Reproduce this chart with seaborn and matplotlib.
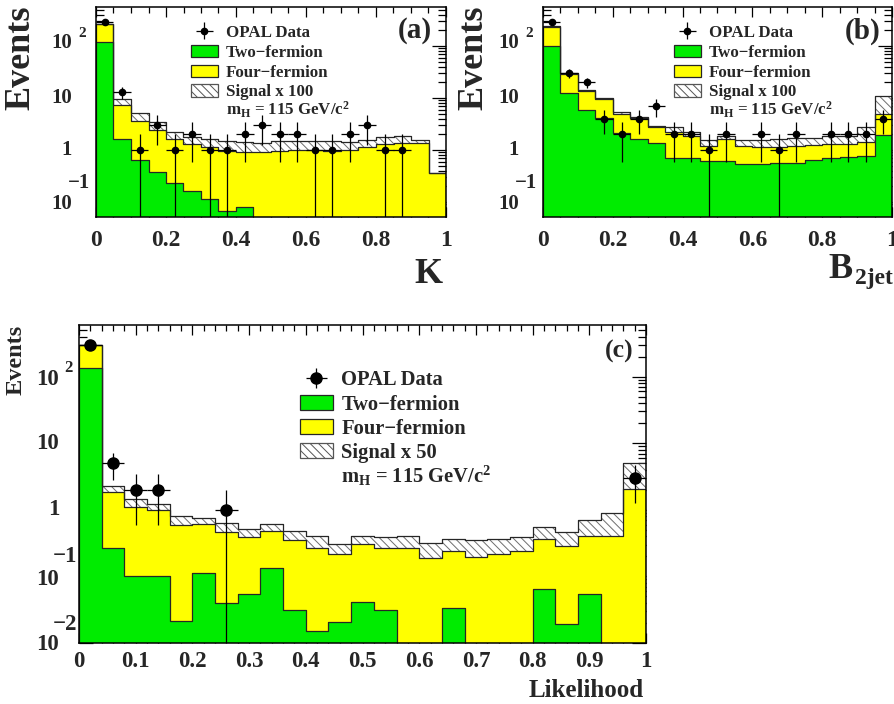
import numpy as np
import seaborn as sns
import matplotlib.pyplot as plt
import matplotlib.transforms as mtransforms
from matplotlib.patches import Patch
from matplotlib.ticker import MultipleLocator, NullFormatter, FuncFormatter

# ---- panel (a): K, 20 bins ----
a_edges = np.linspace(0, 1, 21)
a_two = [121, 1.6, 0.64, 0.37, 0.23, 0.16, 0.112, 0.067, 0.079, 0, 0, 0, 0, 0, 0, 0, 0, 0, 0, 0]
a_four = [141, 5.7, 2.96, 2.03, 1.37, 1.14, 1.01, 0.90, 0.85, 0.93, 0.97, 1.0, 0.98, 0.97, 1.0,
          1.16, 1.3, 1.38, 1.38, 0.36]
a_sig = [3, 2.2, 1.5, 1.0, 0.65, 0.5, 0.48, 0.53, 0.52, 0.45, 0.53, 0.5, 0.54, 0.55, 0.45,
         0.39, 0.5, 0.52, 0.17, 0]
a_data = [295, 13, 1, 3, 1, 2, 1, 1, 2, 3, 2, 2, 1, 1, 2, 3, 1, 1, 0, 0]

# ---- panel (b): B_2jet, 20 bins ----
b_edges = np.linspace(0, 1, 21)
b_two = [100, 12.3, 5.9, 4.2, 2.15, 1.6, 1.38, 0.7, 0.7, 0.62, 0.62, 0.53, 0.53, 0.57, 0.56,
         0.64, 0.69, 0.72, 0.77, 1.94]
b_four = [135, 16.7, 7.9, 5.2, 2.75, 2.47, 1.42, 1.55, 1.2, 0.57, 0.98, 0.66, 0.63, 0.56, 0.63,
          0.61, 0.61, 0.61, 0.67, 2.9]
b_sig = [5, 1.0, 0.4, 0.7, 0.4, 0.3, 0.13, 0.48, 0.3, 0.37, 0.28, 0.37, 0.4, 0.47, 0.49,
         0.43, 0.56, 0.53, 1.29, 6.05]
b_data = [285, 30, 20, 4, 2, 4, 7, 2, 2, 1, 2, 0, 2, 1, 2, 0, 2, 2, 2, 4]

# ---- panel (c): Likelihood, 25 bins ----
c_edges = np.linspace(0, 1, 26)
c_two = [133, 0.27, 0.1, 0.103, 0.0214, 0.112, 0.04, 0.055, 0.133, 0.0316, 0.015, 0.0204,
         0.041, 0.0316, 0, 0, 0.033, 0, 0, 0, 0.065, 0.019, 0.055, 0, 0]
c_four = [165, 1.61, 1.02, 0.88, 0.56, 0.49, 0.43, 0.335, 0.34, 0.32, 0.255, 0.2, 0.264, 0.24,
          0.263, 0.19, 0.204, 0.195, 0.216, 0.237, 0.3, 0.27, 0.355, 0.4, 2.07]
c_sig = [2, 0.36, 0.33, 0.25, 0.23, 0.14, 0.16, 0.13, 0.14, 0.135, 0.13, 0.09, 0.105, 0.12,
         0.147, 0.13, 0.123, 0.155, 0.144, 0.153, 0.187, 0.182, 0.3, 0.49, 2.93]
c_data = [303, 5, 2, 2, 0, 0, 1, 0, 0, 0, 0, 0, 0, 0, 0, 0, 0, 0, 0, 0, 0, 0, 0, 0, 3]

GREEN = '#00ec00'
YELLOW = '#ffff00'
EDGE = '#262626'
HATCH = '\\' * 4
MH_LABEL = r'$\mathbf{m_{H}}$ = 115 GeV/c$^{2}$'

sns.set_style("ticks")
plt.rcParams['font.family'] = ['Liberation Serif', 'DejaVu Serif']
plt.rcParams['font.weight'] = 'bold'
plt.rcParams['mathtext.fontset'] = 'custom'
plt.rcParams['mathtext.rm'] = 'Liberation Serif:bold'
plt.rcParams['mathtext.it'] = 'Liberation Serif:bold'
plt.rcParams['mathtext.bf'] = 'Liberation Serif:bold'
plt.rcParams['hatch.linewidth'] = 0.7

W, H = 895, 704
fig = plt.figure(figsize=(W / 100, H / 100), dpi=100)


def frame(l, t, r, b):
    return fig.add_axes([l / W, 1 - b / H, (r - l) / W, (b - t) / H])


def draw_stack(ax, edges, two, four, sig, data, ms):
    centers = (edges[:-1] + edges[1:]) / 2
    bins = list(edges)
    lvl_two = np.array(two, dtype=float)
    lvl_four = lvl_two + np.array(four)
    lvl_sig = lvl_four + np.array(sig)
    # signal on top of everything, hatched
    sns.histplot(x=centers, weights=lvl_sig, bins=bins, element='step', fill=True,
                 facecolor='white', edgecolor='#6e6e6e', hatch=HATCH, linewidth=0,
                 alpha=1, ax=ax)
    sns.histplot(x=centers, weights=lvl_sig, bins=bins, element='step', fill=False,
                 color=EDGE, linewidth=0.9, ax=ax)
    sns.histplot(x=centers, weights=lvl_four, bins=bins, element='step', fill=True,
                 facecolor=YELLOW, edgecolor=EDGE, linewidth=0.9, alpha=1, ax=ax)
    sns.histplot(x=centers, weights=lvl_two, bins=bins, element='step', fill=True,
                 facecolor=GREEN, edgecolor=EDGE, linewidth=0.9, alpha=1, ax=ax)
    n = np.array(data, dtype=float)
    keep = n > 0
    half = (edges[1] - edges[0]) / 2
    eb = ax.errorbar(centers[keep], n[keep], xerr=half, yerr=np.sqrt(n[keep]), fmt='o',
                     color='black', ms=ms, elinewidth=0.9, capsize=0, label='OPAL Data',
                     zorder=5)
    ax.set_xlabel('')
    ax.set_ylabel('')
    return eb


def style_axis(ax, ymin, ymax, major, minor, xfs, xpad):
    ax.set_yscale('log')
    ax.set_xlim(0, 1)
    ax.set_ylim(ymin, ymax)
    ax.xaxis.set_major_locator(MultipleLocator(major))
    ax.xaxis.set_minor_locator(MultipleLocator(minor))
    ax.xaxis.set_major_formatter(FuncFormatter(lambda v, p: f"{v:g}"))
    ax.yaxis.set_major_formatter(NullFormatter())
    ax.yaxis.set_minor_formatter(NullFormatter())
    ax.tick_params(which='both', direction='in', top=True, right=True, width=0.9, color='black')
    ax.tick_params(axis='x', which='major', length=7, labelsize=xfs, pad=xpad)
    ax.tick_params(axis='x', which='minor', length=4)
    ax.tick_params(axis='y', which='major', length=10)
    ax.tick_params(axis='y', which='minor', length=6)
    for lab in ax.get_xticklabels():
        lab.set_fontweight('bold')
    for s in ax.spines.values():
        s.set_linewidth(1.1)
        s.set_color('black')


def put(ax, y, s, dx, dy, fs):
    tr = ax.get_yaxis_transform() + mtransforms.ScaledTranslation(dx / 100, dy / 100,
                                                                  fig.dpi_scale_trans)
    ax.text(0, y, s, transform=tr, ha='right', va='center', fontsize=fs, fontweight='bold')


def legend(ax, eb, sig_label, fs, anchor, hl, hh, spacing, pad, mh_xy):
    handles = [eb,
               Patch(facecolor=GREEN, edgecolor=EDGE, linewidth=0.9),
               Patch(facecolor=YELLOW, edgecolor=EDGE, linewidth=0.9),
               Patch(facecolor='white', edgecolor='#555555', hatch=HATCH, linewidth=0.9)]
    labels = ['OPAL Data', 'Two\u2212fermion', 'Four\u2212fermion', sig_label]
    ax.legend(handles, labels, loc='upper left', bbox_to_anchor=anchor, frameon=False,
              handlelength=hl, handleheight=hh, labelspacing=spacing,
              handletextpad=pad, borderpad=0, borderaxespad=0,
              prop={'weight': 'bold', 'size': fs})
    ax.text(mh_xy[0], mh_xy[1], MH_LABEL, transform=ax.transAxes, ha='left', va='baseline',
            fontsize=fs, fontweight='bold')


# ---------------- (a) ----------------
ax_a = frame(96, 7, 446, 217)
eb = draw_stack(ax_a, a_edges, a_two, a_four, a_sig, a_data, 4.5)
style_axis(ax_a, 0.0515, 562, 0.2, 0.05, 17, 9)
legend(ax_a, eb, 'Signal x 100', 12.2, (0.271, 0.915), 1.6, 0.75, 0.22, 0.45, (0.371, 0.485))
ax_a.text(0.96, 0.886, '(a)', transform=ax_a.transAxes, ha='right', va='center',
          fontsize=21, fontweight='bold')

# ---------------- (b) ----------------
ax_b = frame(543, 7, 892, 217)
eb = draw_stack(ax_b, b_edges, b_two, b_four, b_sig, b_data, 4.5)
style_axis(ax_b, 0.0515, 562, 0.2, 0.05, 17, 9)
legend(ax_b, eb, 'Signal x 100', 12.2, (0.375, 0.915), 1.6, 0.75, 0.22, 0.45, (0.475, 0.485))
ax_b.text(0.966, 0.886, '(b)', transform=ax_b.transAxes, ha='right', va='center',
          fontsize=21, fontweight='bold')

for ax in (ax_a, ax_b):
    put(ax, 1, '1', -24, 0, 15)
    put(ax, 10, '10', -24, 0, 15)
    put(ax, 100, '10', -24, 3, 15)
    put(ax, 100, '2', -10, 12, 11)
    put(ax, 0.1, '10', -24, -2, 15)
    put(ax, 0.1, '\u22121', -6, 19, 15)

# ---------------- (c) ----------------
ax_c = frame(79, 325, 646, 643)
eb = draw_stack(ax_c, c_edges, c_two, c_four, c_sig, c_data, 8)
style_axis(ax_c, 0.01, 596, 0.1, 0.02, 16.5, 6)
legend(ax_c, eb, 'Signal x 50', 14.8, (0.389, 0.857), 1.63, 0.72, 0.2, 0.4, (0.462, 0.505))
ax_c.text(0.978, 0.917, '(c)', transform=ax_c.transAxes, ha='right', va='center',
          fontsize=18.5, fontweight='bold')
put(ax_c, 1, '1', -20, 0, 16.5)
put(ax_c, 10, '10', -20, 0, 16.5)
put(ax_c, 100, '10', -20, -3, 16.5)
put(ax_c, 100, '2', -6, 9, 12)
put(ax_c, 0.1, '10', -20, -3, 16.5)
put(ax_c, 0.1, '\u22121', -2, 20, 16.5)
put(ax_c, 0.01, '10', -20, -2, 16.5)
put(ax_c, 0.01, '\u22122', -2, 19, 16.5)

# ---- axis titles ----
fig.text(21 / W, 1 - 6 / H, 'Events', rotation=90, ha='center', va='top', fontsize=26,
         fontweight='bold')
fig.text(474 / W, 1 - 6 / H, 'Events', rotation=90, ha='center', va='top', fontsize=26,
         fontweight='bold')
fig.text(16 / W, 1 - 325 / H, 'Events', rotation=90, ha='center', va='top', fontsize=17.5,
         fontweight='bold')
fig.text(443 / W, 1 - 283 / H, 'K', ha='right', va='baseline', fontsize=26, fontweight='bold')
fig.text(853 / W, 1 - 278 / H, 'B', ha='right', va='baseline', fontsize=26, fontweight='bold')
fig.text(893 / W, 1 - 284 / H, '2jet', ha='right', va='baseline', fontsize=17,
         fontweight='bold')
fig.text(644 / W, 1 - 697 / H, 'Likelihood', ha='right', va='baseline', fontsize=18,
         fontweight='bold')

fig.savefig('out.png', dpi=100)
